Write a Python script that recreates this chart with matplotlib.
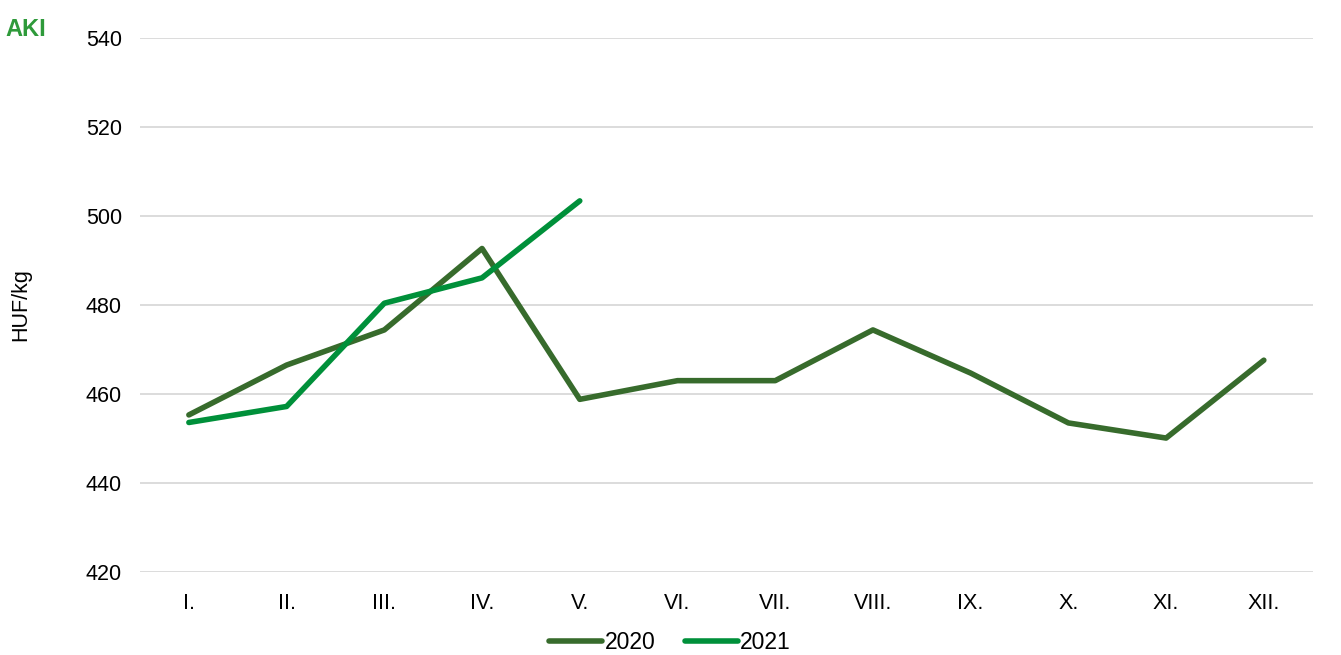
import matplotlib.pyplot as plt
import numpy as np

plt.rcParams['font.family'] = ['Liberation Sans', 'DejaVu Sans']

months = ['I.', 'II.', 'III.', 'IV.', 'V.', 'VI.', 'VII.', 'VIII.', 'IX.', 'X.', 'XI.', 'XII.']
y2020 = [455.3, 466.5, 474.4, 492.7, 458.8, 463.0, 463.0, 474.4, 464.7, 453.5, 450.1, 467.6]
y2021 = [453.6, 457.2, 480.4, 486.1, 503.4]
yticks = [420, 440, 460, 480, 500, 520, 540]

fig = plt.figure(figsize=(13.41, 6.55), dpi=100)
ax = fig.add_axes([0.1044, 0.1267, 0.8745, 0.8153])

x = np.arange(len(months))
ax.plot(x, y2020, color='#376b2c', lw=4.0, solid_capstyle='round', solid_joinstyle='round', label='2020')
ax.plot(x[:len(y2021)], y2021, color='#00903a', lw=4.0, solid_capstyle='round', solid_joinstyle='round', label='2021')

ax.set_xlim(-0.5, len(months) - 0.5)
ax.set_ylim(420, 540)
ax.set_xticks(x)
ax.set_xticklabels(months)
ax.set_yticks(yticks)
ax.tick_params(axis='both', length=0, labelsize=15.5, colors='#000000')
ax.tick_params(axis='x', pad=15)
ax.tick_params(axis='y', pad=13)
ax.grid(axis='y', color='#d9d9d9', lw=1.3)
ax.set_axisbelow(True)
for s in ax.spines.values():
    s.set_visible(False)

ax.set_ylabel('HUF/kg', fontsize=15.5)
ax.yaxis.set_label_coords(-0.093, 0.5)

ax.legend(loc='upper center', bbox_to_anchor=(0.452, -0.072), ncol=2, frameon=False,
          fontsize=16.5, handlelength=2.3, handletextpad=0.1, columnspacing=1.3)

# logo placeholder
fig.text(0.004, 0.955, 'AKI', color='#2e9a3a', fontsize=17, fontweight='bold', ha='left', va='center')

fig.savefig('out.png', dpi=100)
